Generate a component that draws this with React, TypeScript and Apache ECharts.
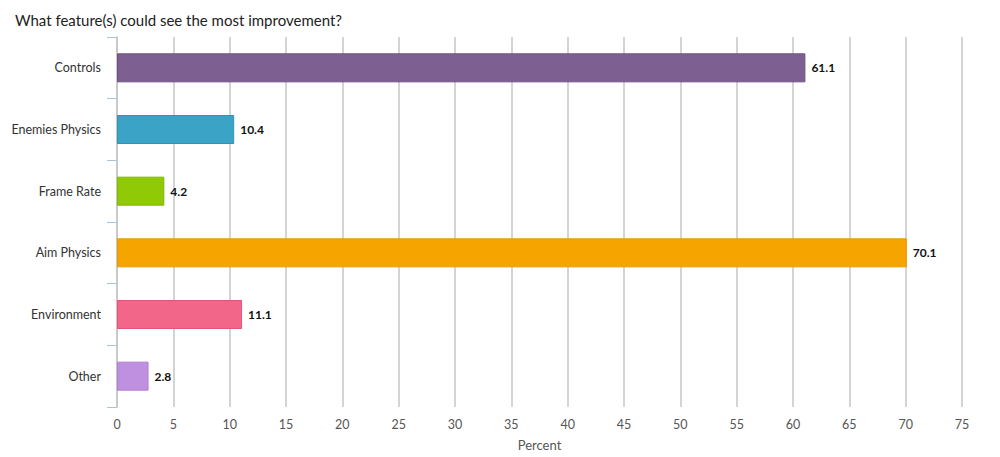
import React, { useEffect, useRef } from "react";
import * as echarts from "echarts";

const title = "What feature(s) could see the most improvement?";
const categories = ["Controls", "Enemies Physics", "Frame Rate", "Aim Physics", "Environment", "Other"];
const values = [61.1, 10.4, 4.2, 70.1, 11.1, 2.8];
const fillColors = ["#7d5f91", "#3aa3c6", "#90c906", "#f6a500", "#f26689", "#c090e0"];
const borderColors = ["#6d4f82", "#2f93b6", "#80b800", "#e89800", "#e0557a", "#b07ed2"];
const axisName = "Percent";

export default function App() {
  const ref = useRef<HTMLDivElement>(null);
  useEffect(() => {
    document.body.style.margin = "0";
    if (!ref.current) return;
    const chart = echarts.init(ref.current, undefined, { renderer: "svg" });
    chart.setOption({
      animation: false,
      textStyle: { fontFamily: "Lato" },
      title: {
        text: title,
        left: 10,
        top: 7,
        textStyle: { fontFamily: "Lato", fontSize: 15, fontWeight: "normal", color: "#222" },
      },
      grid: { left: 117, right: 38, top: 37, bottom: 50 },
      xAxis: {
        type: "value",
        min: 0,
        max: 75,
        interval: 5,
        name: axisName,
        nameLocation: "middle",
        nameGap: 31,
        nameTextStyle: { fontFamily: "Lato", fontSize: 13, color: "#555" },
        axisLine: { show: false },
        axisTick: { show: false },
        axisLabel: { fontFamily: "Lato", fontSize: 12.5, color: "#555", margin: 11 },
        splitLine: { show: true, lineStyle: { color: "#c6c6c6", width: 1.5 } },
      },
      yAxis: {
        type: "category",
        inverse: true,
        data: categories,
        axisLine: { show: true, lineStyle: { color: "#c6c6c6", width: 1.5 } },
        axisTick: { show: true, length: 10, lineStyle: { color: "#a9c3de", width: 1 } },
        axisLabel: { fontFamily: "Lato", fontSize: 12.5, color: "#333", margin: 16 },
        splitLine: { show: false },
      },
      series: [
        {
          type: "bar",
          barWidth: 29,
          data: values.map((v, i) => ({
            value: v,
            itemStyle: { color: fillColors[i], borderColor: borderColors[i], borderWidth: 1 },
          })),
          label: {
            show: true,
            position: "right",
            distance: 6,
            fontFamily: "Lato",
            fontSize: 12,
            fontWeight: "bold",
            color: "#111",
          },
        },
      ],
    });
    return () => chart.dispose();
  }, []);
  return <div ref={ref} style={{ width: 1000, height: 457 }} />;
}
